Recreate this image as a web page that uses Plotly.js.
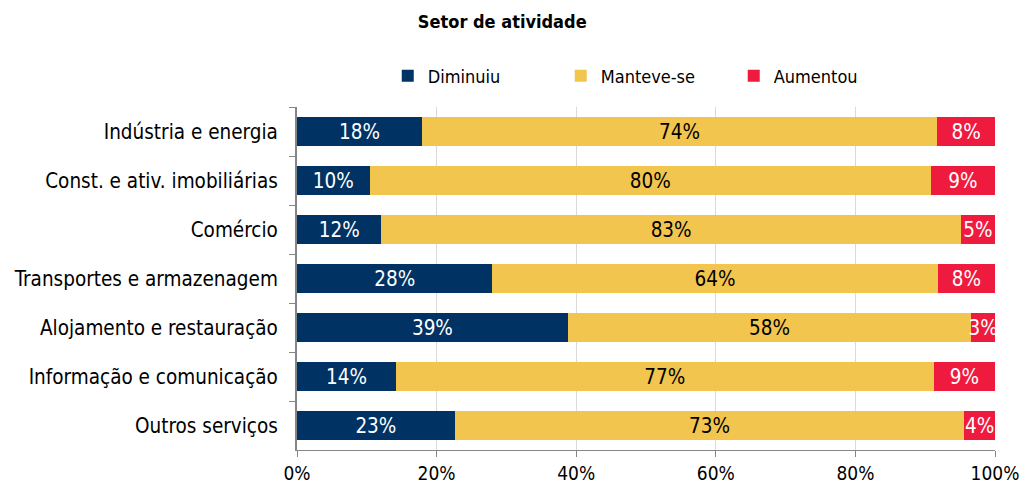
<!DOCTYPE html>
<html>
<head>
<meta charset="utf-8">
<script src="https://cdn.plot.ly/plotly-3.0.1.min.js"></script>
<style>html,body{margin:0;padding:0;background:#fff;}#chart{width:1025px;height:490px;}</style>
</head>
<body>
<div id="chart"></div>
<script>
const categories = [
  "Indústria e energia",
  "Const. e ativ. imobiliárias",
  "Comércio",
  "Transportes e armazenagem",
  "Alojamento e restauração",
  "Informação e comunicação",
  "Outros serviços"
];
const diminuiu = [17.9, 10.4, 12.1, 28.0, 38.8, 14.2, 22.6];
const manteve  = [73.8, 80.4, 83.0, 63.8, 57.8, 77.0, 73.0];
const aumentou = [8.3, 9.2, 4.9, 8.2, 3.4, 8.8, 4.4];
const seriesNames = ["Diminuiu", "Manteve-se", "Aumentou"];
const xTickVals = [0, 20, 40, 60, 80, 100];
const xTickText = ["0%", "20%", "40%", "60%", "80%", "100%"];

const FONT = "DejaVu Sans Condensed, DejaVu Sans, sans-serif";
const colors = ["#003263", "#F2C54F", "#EE1B3F"];
const textColors = ["#ffffff", "#000000", "#ffffff"];
const data = [diminuiu, manteve, aumentou].map((vals, i) => ({
  type: "bar",
  orientation: "h",
  name: seriesNames[i],
  y: categories,
  x: vals,
  marker: {color: colors[i]},
  texttemplate: "%{x:.0f}%",
  textposition: "inside",
  insidetextanchor: "middle",
  textangle: 0,
  textfont: {family: FONT, size: 20.5, color: textColors[i]},
  hoverinfo: "skip"
}));

const layout = {
  width: 1025, height: 490,
  margin: {l: 297, r: 30, t: 107, b: 40},
  paper_bgcolor: "#ffffff",
  plot_bgcolor: "#ffffff",
  font: {family: FONT, size: 18, color: "#000000"},
  barmode: "stack",
  bargap: 0.39,
  uniformtext: {mode: "show", minsize: 20.5},
  title: {text: "<b>Setor de atividade</b>", x: 0.49, xanchor: "center", y: 0.955, yanchor: "middle",
          font: {family: FONT, size: 18, color: "#000"}},
  showlegend: true,
  legend: {orientation: "h", x: 0.13, xanchor: "left", y: 1.09, yanchor: "middle",
           font: {family: FONT, size: 18, color: "#000"}, entrywidth: 128, entrywidthmode: "pixels",
           itemwidth: 30, traceorder: "normal"},
  xaxis: {
    range: [0, 100], tickvals: xTickVals, ticktext: xTickText,
    showgrid: true, gridcolor: "#d9d9d9", gridwidth: 1,
    showline: true, linecolor: "#868686", linewidth: 1,
    ticks: "outside", ticklen: 6, tickcolor: "#868686",
    zeroline: false, tickfont: {family: FONT, size: 19, color: "#000"},
    fixedrange: true
  },
  yaxis: {
    type: "category", autorange: "reversed",
    categoryorder: "array", categoryarray: categories,
    showline: true, linecolor: "#868686", linewidth: 2,
    ticks: "outside", ticklen: 6, tickcolor: "#868686", tickson: "boundaries",
    showgrid: false, ticklabelstandoff: 13,
    tickfont: {family: FONT, size: 20.5, color: "#000"},
    fixedrange: true
  }
};

Plotly.newPlot("chart", data, layout, {displayModeBar: false, staticPlot: true});
</script>
</body>
</html>
